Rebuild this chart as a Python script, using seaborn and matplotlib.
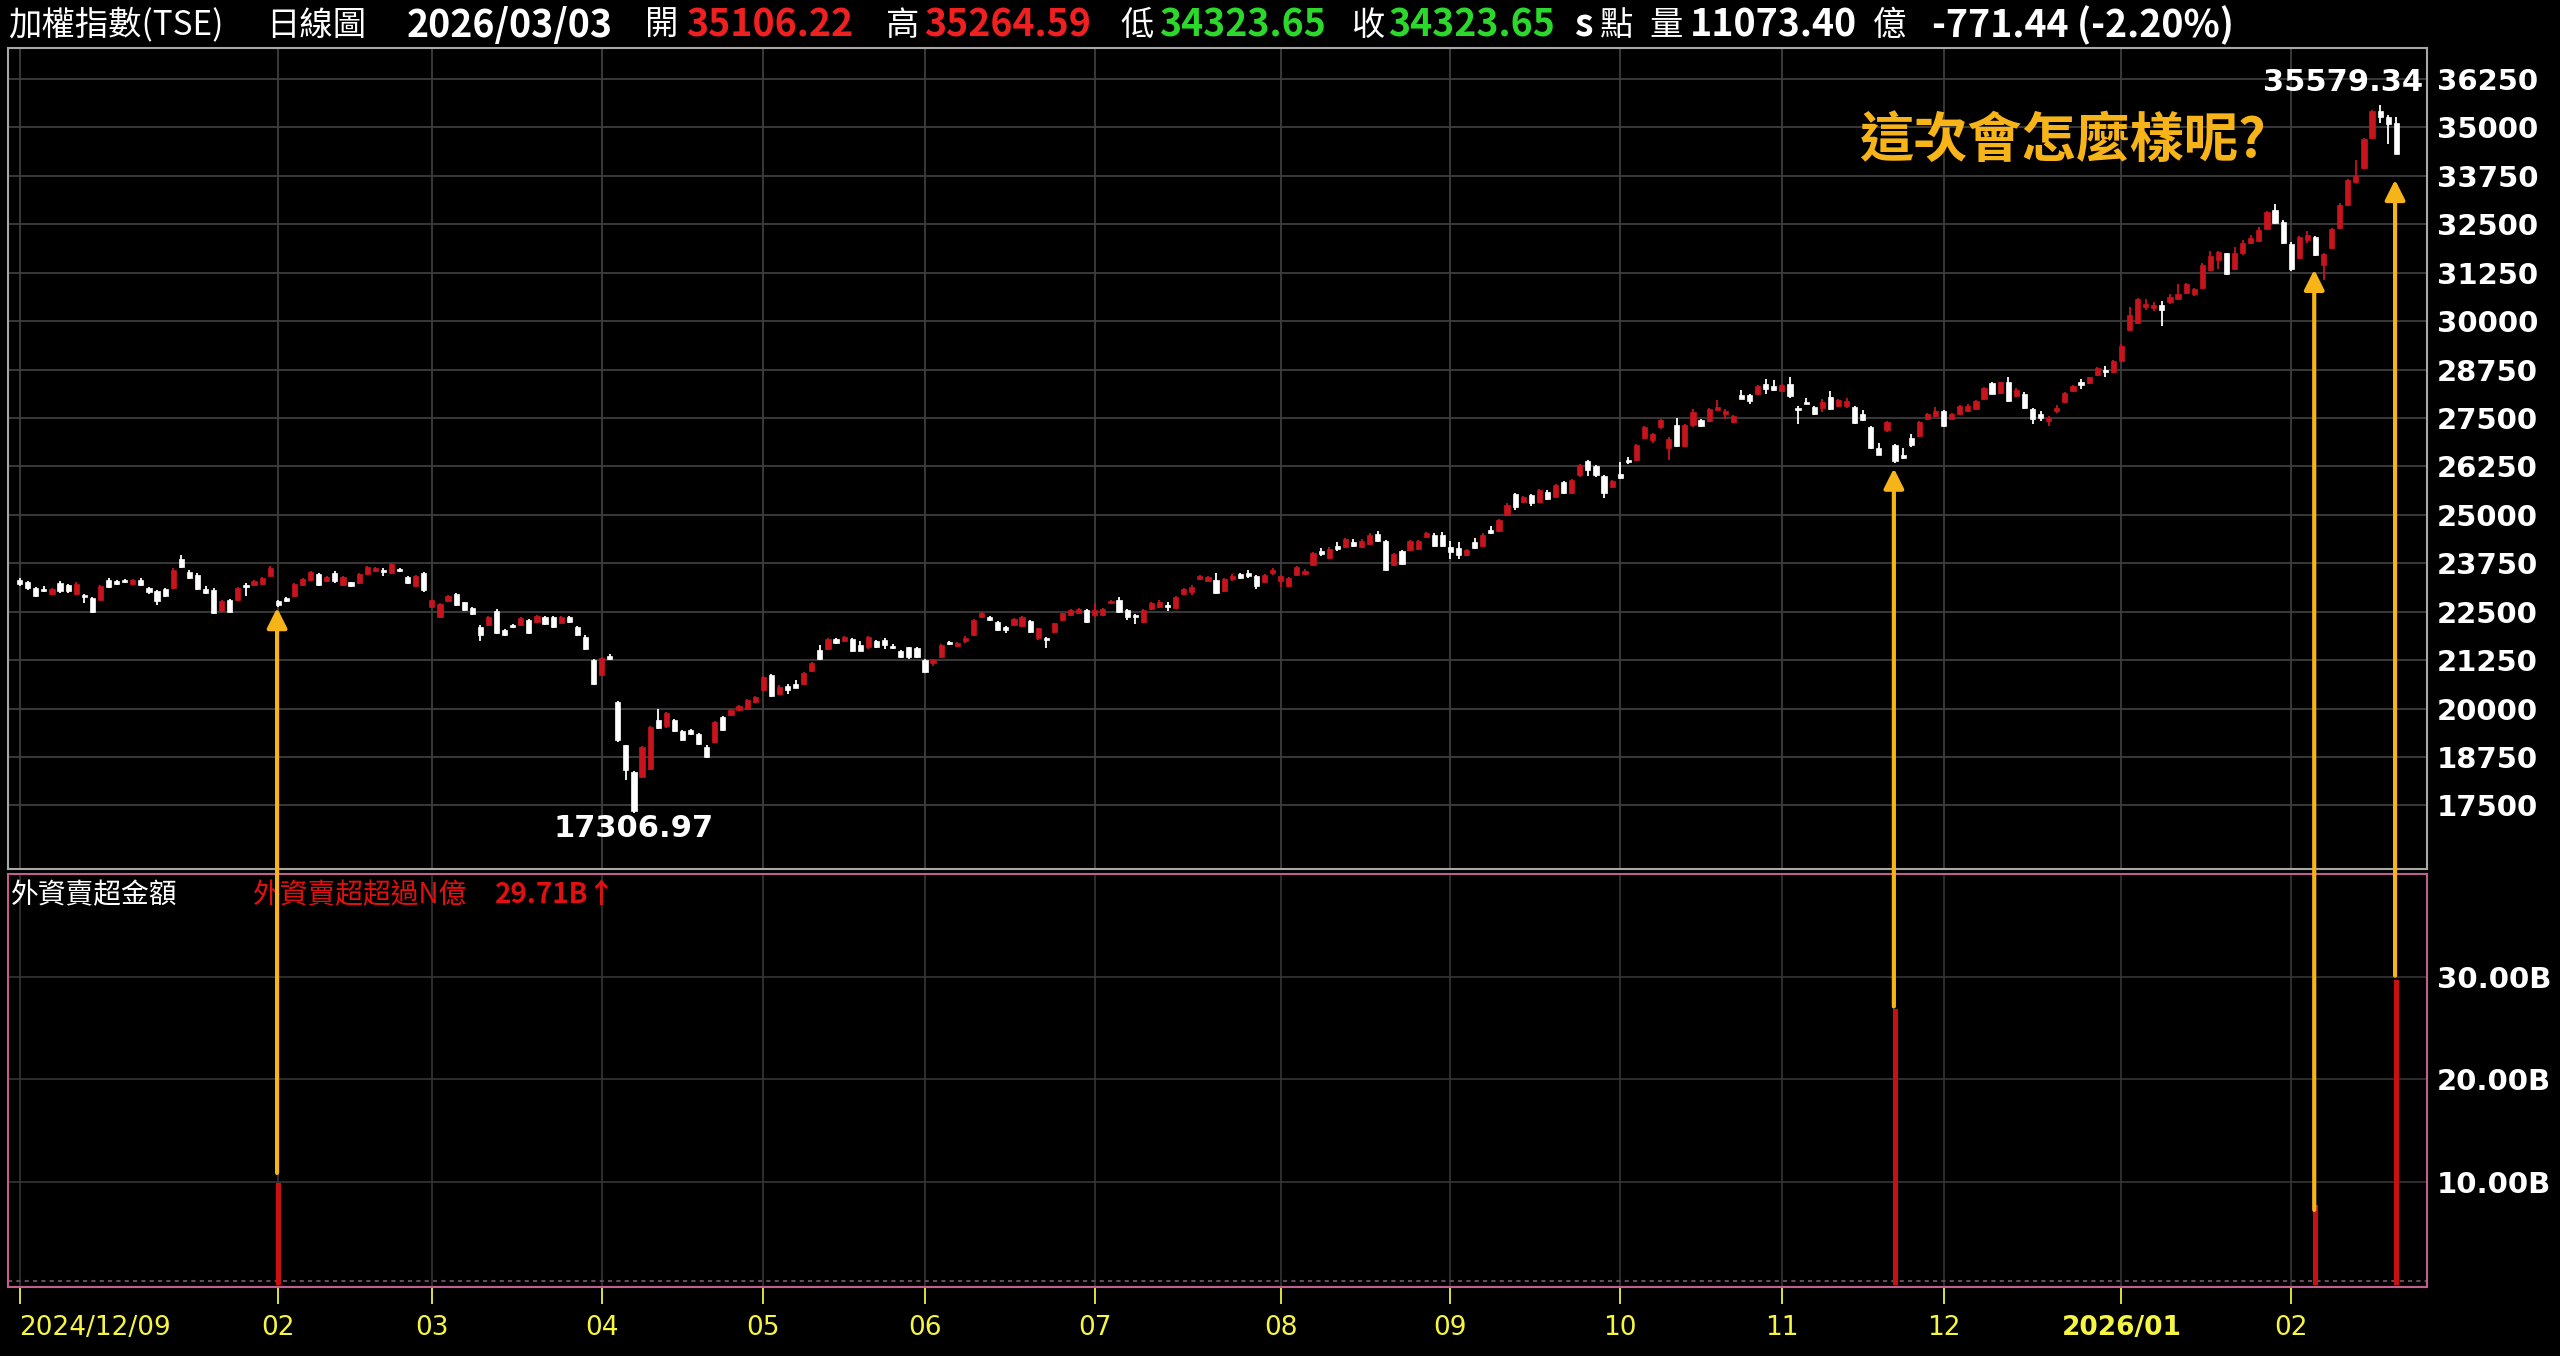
import numpy as np
import pandas as pd
import matplotlib
matplotlib.use("Agg")
import matplotlib.pyplot as plt
import seaborn as sns
from matplotlib.patches import ConnectionPatch
from matplotlib import font_manager as fm

# ---------------- data ----------------
opens = [
    23326, 23257, 23110, 23084, 22963, 23240, 23179, 22963, 22937, 22851,
    22808, 23309, 23283, 23326, 23223, 23309, 23110, 23024, 23084, 23110,
    23862, 23517, 23456, 23084, 23067, 22531, 22808, 22808, 23197, 23197,
    23223, 23430, 22782, 22851, 22911, 23197, 23309, 23473, 23283, 23499,
    23197, 23257, 23240, 23482, 23542, 23586, 23499, 23611, 23396, 23153,
    23499, 22635, 22375, 22765, 22963, 22739, 22592, 22116, 22160, 22531,
    22030, 22160, 22160, 22289, 22246, 22375, 22358, 22220, 22375, 22116,
    21857, 21252, 20863, 21356, 20172, 19048, 18357, 18227, 18443, 19714,
    19541, 19714, 19420, 19454, 19350, 19005, 19134, 19783, 19826, 19956,
    20000, 20172, 20474, 20863, 20388, 20578, 20647, 20647, 20974, 21509,
    21526, 21793, 21750, 21785, 21638, 21578, 21750, 21767, 21612, 21491,
    21578, 21552, 21250, 21164, 21336, 21724, 21612, 21750, 21897, 22354,
    22371, 22242, 22112, 22155, 22129, 22267, 21810, 21810, 21983, 22285,
    22414, 22457, 22543, 22414, 22414, 22716, 22802, 22543, 22405, 22242,
    22560, 22629, 22673, 22586, 22957, 23017, 23336, 23302, 23319, 23043,
    23336, 23474, 23509, 23422, 23276, 23509, 23285, 23173, 23457, 23474,
    23716, 24078, 23888, 24207, 24164, 24293, 24164, 24250, 24509, 24336,
    23716, 24060, 24095, 24121, 24422, 24491, 24491, 24164, 24138, 23974,
    24293, 24207, 24612, 24595, 25009, 25526, 25328, 25517, 25328, 25586,
    25474, 25845, 25560, 26017, 26388, 26250, 25991, 25715, 26060, 26422,
    26405, 26991, 26922, 27267, 26733, 27310, 26767, 27310, 27440, 27422,
    27715, 27612, 27396, 28103, 28086, 28129, 28388, 28319, 28198, 28373,
    27768, 27924, 27794, 27751, 28045, 27811, 27811, 27785, 27595, 27266,
    26730, 27180, 26799, 26557, 26972, 27033, 27465, 27552, 27682, 27465,
    27595, 27681, 27725, 27984, 28391, 28157, 28417, 28071, 28131, 27725,
    27595, 27422, 27682, 27924, 28201, 28417, 28391, 28615, 28737, 28676,
    28979, 29775, 29948, 30363, 30346, 30406, 30493, 30579, 30726, 30692,
    30865, 31315, 31574, 31747, 31358, 31747, 32024, 32076, 32370, 32871,
    32569, 32000, 31631, 32094, 32164, 31462, 31884, 32417, 33007, 33597,
    33961, 34719, 35421, 35280, 35106.22,
]
highs = [
    23370, 23283, 23140, 23153, 23110, 23283, 23210, 23260, 22963, 22880,
    23180, 23361, 23310, 23350, 23350, 23361, 23140, 23050, 23110, 23620,
    23974, 23586, 23490, 23153, 23100, 22790, 22840, 23140, 23240, 23330,
    23400, 23672, 22808, 22880, 23250, 23370, 23540, 23500, 23420, 23542,
    23420, 23280, 23510, 23690, 23660, 23629, 23770, 23640, 23420, 23460,
    23530, 22810, 22730, 22920, 22990, 22760, 22620, 22160, 22400, 22566,
    22060, 22190, 22360, 22320, 22420, 22400, 22390, 22400, 22400, 22140,
    21890, 21280, 21330, 21408, 20200, 19070, 18380, 19040, 19560, 19999,
    19920, 19740, 19440, 19480, 19370, 19048, 19680, 19810, 19980, 20080,
    20260, 20330, 20850, 20890, 20600, 20630, 20750, 20950, 21190, 21638,
    21810, 21830, 21880, 21810, 21750, 21880, 21780, 21810, 21680, 21520,
    21600, 21580, 21280, 21293, 21660, 21750, 21710, 21870, 22310, 22500,
    22400, 22270, 22140, 22330, 22400, 22290, 22090, 21836, 22220, 22480,
    22570, 22590, 22570, 22733, 22590, 22800, 22888, 22570, 22430, 22570,
    22760, 22790, 22759, 22900, 23100, 23190, 23450, 23430, 23509, 23360,
    23474, 23500, 23577, 23450, 23470, 23620, 23460, 23400, 23690, 23600,
    24040, 24138, 24160, 24293, 24410, 24379, 24370, 24520, 24578, 24360,
    24020, 24090, 24360, 24360, 24550, 24520, 24550, 24336, 24293, 24120,
    24405, 24520, 24724, 24900, 25300, 25560, 25500, 25550, 25680, 25646,
    25790, 25880, 25920, 26310, 26420, 26280, 26020, 25900, 26362, 26491,
    26820, 27300, 27120, 27483, 27000, 27508, 27340, 27741, 27470, 27770,
    27974, 27741, 27570, 28215, 28110, 28350, 28517, 28491, 28370, 28546,
    27811, 28028, 27820, 27984, 28200, 27990, 28028, 27810, 27699, 27290,
    26860, 27430, 26820, 26730, 27076, 27430, 27620, 27785, 27710, 27640,
    27840, 27872, 27970, 28310, 28420, 28440, 28564, 28270, 28160, 27750,
    27682, 27552, 27837, 28180, 28360, 28503, 28570, 28810, 28849, 29000,
    29400, 30363, 30610, 30579, 30493, 30519, 30692, 30968, 30980, 30860,
    31505, 31816, 31816, 31770, 31920, 32093, 32223, 32439, 32840, 33027,
    32600, 32050, 32200, 32333, 32190, 31771, 32400, 33040, 33670, 34158,
    34720, 35450, 35579.34, 35330, 35264.59,
]
lows = [
    23171, 23067, 22880, 22998, 22940, 22981, 22990, 22940, 22721, 22480,
    22790, 23110, 23200, 23250, 23200, 23153, 22970, 22678, 22870, 23080,
    23629, 23344, 23050, 22963, 22440, 22500, 22470, 22780, 22894, 23170,
    23200, 23413, 22635, 22740, 22890, 23170, 23290, 23170, 23260, 23240,
    23170, 23130, 23220, 23460, 23520, 23430, 23480, 23520, 23220, 23130,
    23020, 22590, 22332, 22740, 22650, 22520, 22410, 21753, 22130, 21926,
    21870, 22070, 22140, 21920, 22220, 22160, 22070, 22200, 22220, 21870,
    21500, 20620, 20830, 21252, 19150, 18158, 17306.97, 18200, 18420, 19480,
    19510, 19400, 19170, 19330, 19050, 18728, 19110, 19410, 19800, 19930,
    19980, 20150, 20450, 20290, 20350, 20388, 20520, 20620, 20950, 21267,
    21500, 21670, 21730, 21470, 21480, 21550, 21570, 21526, 21540, 21310,
    21290, 21310, 20920, 21095, 21310, 21640, 21590, 21698, 21870, 22330,
    22260, 22000, 21940, 22130, 22100, 21960, 21767, 21552, 21960, 22260,
    22390, 22430, 22220, 22371, 22390, 22690, 22474, 22285, 22181, 22220,
    22540, 22600, 22526, 22560, 22930, 22931, 23310, 23280, 22957, 23020,
    23302, 23340, 23362, 23078, 23250, 23448, 23147, 23140, 23430, 23450,
    23690, 23948, 23860, 24078, 24140, 24164, 24140, 24230, 24293, 23550,
    23690, 23710, 24070, 24100, 24400, 24180, 24180, 23862, 23862, 23950,
    24121, 24180, 24500, 24570, 24980, 25129, 25300, 25241, 25300, 25390,
    25450, 25530, 25530, 25990, 25991, 25990, 25440, 25690, 25930, 26320,
    26380, 26960, 26853, 27224, 26422, 26750, 26740, 27267, 27260, 27400,
    27698, 27482, 27370, 27980, 27870, 28100, 28129, 28210, 28170, 28028,
    27353, 27850, 27570, 27664, 27716, 27780, 27768, 27350, 27420, 26700,
    26540, 27150, 26340, 26450, 26747, 27000, 27440, 27530, 27270, 27440,
    27570, 27664, 27700, 27960, 28110, 28130, 27924, 28045, 27740, 27335,
    27422, 27292, 27638, 27900, 28180, 28243, 28370, 28590, 28546, 28650,
    28950, 29740, 29920, 30294, 30259, 29887, 30450, 30536, 30700, 30640,
    30839, 31297, 31358, 31190, 31330, 31700, 32000, 32050, 32340, 32508,
    32000, 31294, 31600, 32024, 31690, 31070, 31850, 32390, 32980, 33570,
    33930, 34690, 35113, 34560, 34323.65,
]
closes = [
    23223, 23110, 22911, 23024, 23084, 23024, 23024, 23223, 22877, 22505,
    23153, 23136, 23223, 23274, 23326, 23188, 22998, 22765, 22894, 23586,
    23655, 23370, 23084, 22981, 22462, 22765, 22497, 23110, 23128, 23300,
    23370, 23629, 22670, 22765, 23223, 23344, 23517, 23197, 23396, 23283,
    23396, 23153, 23482, 23655, 23629, 23517, 23741, 23542, 23240, 23430,
    23050, 22791, 22704, 22894, 22678, 22548, 22436, 21900, 22375, 21943,
    21900, 22100, 22332, 21943, 22393, 22185, 22099, 22375, 22246, 21900,
    21529, 20647, 21295, 21270, 19178, 18417, 17363, 19005, 19523, 19506,
    19886, 19420, 19195, 19350, 19074, 18746, 19653, 19437, 19956, 20059,
    20232, 20301, 20820, 20319, 20561, 20474, 20543, 20922, 21164, 21293,
    21785, 21698, 21853, 21491, 21491, 21853, 21595, 21638, 21552, 21336,
    21319, 21336, 20948, 21250, 21638, 21664, 21681, 21810, 22285, 22474,
    22285, 22026, 22026, 22302, 22371, 21983, 22069, 21767, 22198, 22457,
    22543, 22560, 22242, 22543, 22560, 22776, 22500, 22371, 22371, 22543,
    22733, 22759, 22612, 22871, 23078, 23129, 23422, 23405, 22974, 23336,
    23422, 23362, 23422, 23164, 23448, 23578, 23431, 23371, 23664, 23560,
    24009, 23992, 24121, 24121, 24379, 24207, 24336, 24491, 24336, 23578,
    23992, 23733, 24336, 24336, 24526, 24207, 24207, 24034, 23974, 24095,
    24147, 24491, 24526, 24871, 25267, 25198, 25474, 25302, 25646, 25414,
    25759, 25560, 25888, 26276, 26146, 26017, 25560, 25871, 25957, 26362,
    26793, 27267, 27095, 27440, 26965, 26767, 27310, 27655, 27284, 27741,
    27784, 27681, 27543, 28000, 27940, 28319, 28258, 28232, 28345, 28071,
    27699, 27872, 27595, 27924, 27742, 27958, 27941, 27379, 27439, 26730,
    26557, 27405, 26384, 26470, 26816, 27405, 27595, 27682, 27292, 27612,
    27811, 27811, 27941, 28287, 28131, 28417, 27941, 28218, 27768, 27465,
    27491, 27491, 27768, 28157, 28330, 28356, 28546, 28789, 28676, 28979,
    29368, 30147, 30579, 30450, 30406, 30294, 30622, 30709, 30951, 30839,
    31444, 31678, 31790, 31211, 31764, 32007, 32136, 32353, 32811, 32526,
    32024, 31350, 32164, 32235, 31715, 31743, 32375, 33007, 33639, 33737,
    34692, 35421, 35281, 35095.09, 34323.65,
]

month_idx = [0, 32, 51, 72, 92, 112, 133, 156, 177, 198, 218, 238, 260, 281]
month_labels = ["2024/12/09", "02", "03", "04", "05", "06", "07", "08", "09",
                "10", "11", "12", "2026/01", "02"]

sell_idx = [32, 232, 284, 294]          # days with foreign net sell > N
sell_vals = [9.9, 26.9, 7.8, 29.71]     # billions
arrow_start = [10.9, 27.1, 7.3, 30.1]   # arrow tails (B, lower panel)
arrow_tip = [22600, 26200, 31330, 33650]  # arrow heads (index points)

price_ticks = [17500, 18750, 20000, 21250, 22500, 23750, 25000, 26250,
               27500, 28750, 30000, 31250, 32500, 33750, 35000, 36250]
sell_ticks = [10, 20, 30]
sell_tick_labels = ["10.00B", "20.00B", "30.00B"]

low_label = "17306.97"
high_label = "35579.34"

# ---------------- styling ----------------
sns.set_theme(style="dark", rc={
    "axes.facecolor": "black", "figure.facecolor": "black",
    "savefig.facecolor": "black", "grid.color": "#3c3c3c",
})
plt.rcParams["font.family"] = ["Noto Sans CJK TC", "DejaVu Sans"]
plt.rcParams["axes.unicode_minus"] = False

names = {f.name for f in fm.fontManager.ttflist}
NARROW = "Liberation Sans Narrow" if "Liberation Sans Narrow" in names else "DejaVu Sans"

W, H = 2560, 1356
fig = plt.figure(figsize=(W / 100, H / 100), dpi=100, facecolor="black")

L = 8 / W
WID = (2427 - 8) / W
ax1 = fig.add_axes([L, 1 - 869 / H, WID, (869 - 48) / H])
ax2 = fig.add_axes([L, 1 - 1287 / H, WID, (1287 - 874) / H])

df = pd.DataFrame({"open": opens, "high": highs, "low": lows, "close": closes})
df["idx"] = np.arange(len(df))
up = df["close"] >= df["open"]
RED = "#C8141C"
WHITE = "#FFFFFF"
colors = np.where(up, RED, WHITE)

# wicks
wick_lo = np.minimum(df["low"], np.minimum(df["open"], df["close"]))
wick_hi = np.maximum(df["high"], np.maximum(df["open"], df["close"]))
ax1.vlines(df["idx"], wick_lo, wick_hi, colors=colors, linewidth=1.3, zorder=3)
# bodies
body_bottom = np.minimum(df["open"], df["close"])
body_h = np.maximum(np.abs(df["close"] - df["open"]), 25)
ax1.bar(df["idx"], body_h, bottom=body_bottom, width=0.64, color=colors,
        edgecolor=colors, linewidth=0.5, zorder=4)

XL = (-1.435, 297.8)
ax1.set_xlim(*XL)
ax1.set_ylim(15860, 37050)

# grids
ax1.set_xticks(month_idx)
ax1.set_xticklabels([])
ax1.set_yticks(price_ticks)
ax1.grid(True, color="#3e3e3e", linewidth=1.3, zorder=0)
ax1.set_axisbelow(True)
ax1.yaxis.tick_right()
ax1.tick_params(axis="x", length=0)
ax1.tick_params(axis="y", length=0, pad=7, labelsize=21, labelcolor="white")
ax1.set_yticklabels([str(t) for t in price_ticks])
for lb in ax1.get_yticklabels():
    lb.set_fontweight("bold")
    lb.set_family("DejaVu Sans")
for s in ax1.spines.values():
    s.set_color("#a8a8a8")
    s.set_linewidth(1.5)

# lower panel bars (seaborn, native numeric scale)
sell_df = pd.DataFrame({"idx": sell_idx, "val": sell_vals})
native_w = np.min(np.diff(sorted(sell_idx)))
sns.barplot(data=sell_df, x="idx", y="val", native_scale=True, ax=ax2,
            color="#C81010", saturation=1, width=0.6 / native_w,
            errorbar=None, edgecolor="#C81010", linewidth=0, zorder=4)
ax2.set_xlim(*XL)
ax2.set_ylim(-0.2, 40)
ax2.set_xlabel("")
ax2.set_ylabel("")
ax2.set_xticks(month_idx)
ax2.set_xticklabels(month_labels)
ax2.set_yticks(sell_ticks)
ax2.set_yticklabels(sell_tick_labels)
ax2.grid(True, color="#363636", linewidth=1.2, zorder=0)
ax2.set_axisbelow(True)
ax2.axhline(0.35, color="#6a4a5a", linestyle=(0, (2, 2)), linewidth=1.5, zorder=2)
ax2.yaxis.tick_right()
ax2.tick_params(axis="y", length=0, pad=7, labelsize=21, labelcolor="white")
for lb in ax2.get_yticklabels():
    lb.set_fontweight("bold")
    lb.set_family("DejaVu Sans")
ax2.tick_params(axis="x", length=12, width=1.3, color="#F0F040", direction="out",
                pad=8, labelsize=19, labelcolor="#F5F542", bottom=True)
for k, lb in enumerate(ax2.get_xticklabels()):
    lb.set_family([NARROW, "DejaVu Sans"])
    if k == 0:
        lb.set_horizontalalignment("left")
    if month_labels[k] == "2026/01":
        lb.set_fontweight("bold")
for s in ax2.spines.values():
    s.set_color("#C0608F")
    s.set_linewidth(1.5)

# arrows spanning both panels (drawn just left of each bar)
ORANGE = "#F6B419"
for xi, a0, a1 in zip(sell_idx, arrow_start, arrow_tip):
    con = ConnectionPatch(xyA=(xi - 0.15, a0), coordsA=ax2.transData,
                          xyB=(xi - 0.15, a1), coordsB=ax1.transData,
                          arrowstyle="-|>", color=ORANGE, linewidth=3.0,
                          mutation_scale=30, shrinkA=0, shrinkB=0, zorder=10)
    fig.add_artist(con)

# annotations in the price panel
ax1.text(76, 16893, low_label, color="white", fontsize=22, fontweight="bold",
         family="DejaVu Sans", ha="center", va="center", zorder=6)
ax1.text(297.3, 36150, high_label, color="white", fontsize=22, fontweight="bold",
         family="DejaVu Sans", ha="right", va="center", zorder=6)
ax1.text(0.7652, 0.8858, "這次會怎麼樣呢?", transform=ax1.transAxes,
         color=ORANGE, fontsize=39, fontweight="bold",
         family=["Noto Sans CJK TC", "DejaVu Sans"], ha="left", va="center", zorder=6)

# lower panel headings
def ftext(x, y, s, color="white", size=21, weight="normal"):
    fig.text(x / W, 1 - y / H, s, color=color, fontsize=size, fontweight=weight,
             family=["Noto Sans CJK TC", "DejaVu Sans"], ha="left", va="center")

ftext(11, 895, "外資賣超金額", size=20)
ftext(253, 895, "外資賣超超過N億", color="#E01010", size=20)
ftext(495, 895, "29.71B↑", color="#E01010", size=20, weight="bold")

# header line
HY = 25
ftext(8, HY, "加權指數(TSE)", size=24)
ftext(266, HY, "日線圖", size=24)
ftext(407, HY, "2026/03/03", size=27, weight="bold")
ftext(645, HY, "開", size=24)
ftext(686, HY, "35106.22", color="#F02020", size=27, weight="bold")
ftext(885, HY, "高", size=24)
ftext(924, HY, "35264.59", color="#F02020", size=27, weight="bold")
ftext(1120, HY, "低", size=24)
ftext(1159, HY, "34323.65", color="#2BD82B", size=27, weight="bold")
ftext(1352, HY, "收", size=24)
ftext(1388, HY, "34323.65", color="#2BD82B", size=27, weight="bold")
ftext(1574, HY, "s", size=27, weight="bold")
ftext(1600, HY, "點", size=24)
ftext(1649, HY, "量", size=24)
ftext(1690, HY, "11073.40", size=27, weight="bold")
ftext(1873, HY, "億", size=24)
ftext(1932, HY, "-771.44 (-2.20%)", size=27, weight="bold")

fig.savefig("out.png", dpi=100, facecolor="black")
